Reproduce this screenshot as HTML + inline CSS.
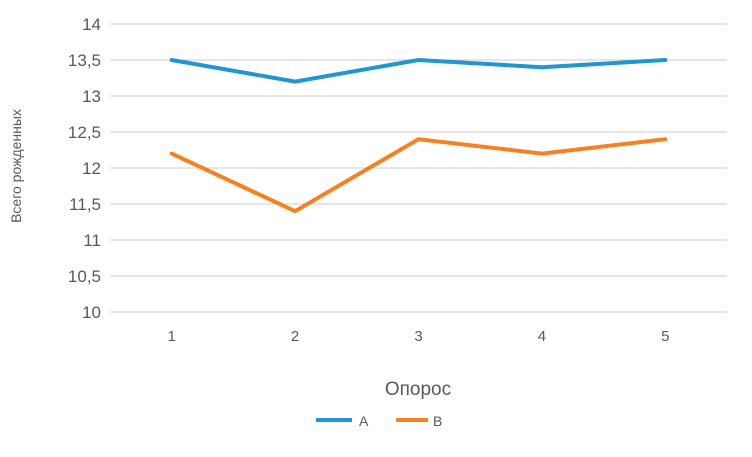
<!DOCTYPE html>
<html><head><meta charset="utf-8"><style>
body{margin:0;background:#fff;}
svg text{font-family:"Liberation Sans",sans-serif;fill:#595959;}
</style></head><body>
<svg id="chart" width="752" height="452" xmlns="http://www.w3.org/2000/svg">
<g id="grid"></g>
<g id="yticks"></g>
<g id="xticks"></g>
<g id="series"></g>
<text x="21" y="166" font-size="14" text-anchor="middle" transform="rotate(-90 21 166)">Всего рожденных</text>
<text x="418" y="395" font-size="19" text-anchor="middle">Опорос</text>
<g><line x1="316" y1="420" x2="352" y2="420" stroke="#2196d3" stroke-width="4"/><text x="359" y="426" font-size="14">A</text></g>
<g><line x1="396" y1="420" x2="428" y2="420" stroke="#f7811f" stroke-width="4"/><text x="433" y="426" font-size="14">B</text></g>
</svg>
<script>
const categories=["1","2","3","4","5"];
const seriesA=[13.5,13.2,13.5,13.4,13.5];
const seriesB=[12.2,11.4,12.4,12.2,12.4];
const yTicks=[10,10.5,11,11.5,12,12.5,13,13.5,14];
const yTickLabels=["10","10,5","11","11,5","12","12,5","13","13,5","14"];
const NS="http://www.w3.org/2000/svg";
const X0=110,X1=727,Y0=312,Y1=24,YMIN=10,YMAX=14;
function xs(i){return X0+(X1-X0)/categories.length*(i+0.5);}
function ys(v){return Y0-(v-YMIN)/(YMAX-YMIN)*(Y0-Y1);}
function mk(t,a,p){const e=document.createElementNS(NS,t);for(const k in a)e.setAttribute(k,a[k]);p.appendChild(e);return e;}
const grid=document.getElementById('grid'),yt=document.getElementById('yticks'),xt=document.getElementById('xticks'),sg=document.getElementById('series');
yTicks.forEach((v,i)=>{
 const l=mk('line',{x1:X0,x2:X1,y1:ys(v),y2:ys(v),stroke:'#cccccc','stroke-width':1},grid);
 
 
 const t=mk('text',{x:101,y:ys(v)+6,'font-size':17,'text-anchor':'end'},yt);
 t.textContent=yTickLabels[i];
 
 
});
categories.forEach((c,i)=>{
 const t=mk('text',{x:xs(i),y:341,'font-size':15,'text-anchor':'middle'},xt);
 t.textContent=c;
 
 
});
function line(vals,color,name){
 const p=mk('polyline',{points:vals.map((v,i)=>xs(i)+','+ys(v)).join(' '),fill:'none',stroke:color,'stroke-width':4,'stroke-linejoin':'round','stroke-linecap':'round'},sg);
 
 
}
line(seriesA,'#2196d3','series-a-line');
line(seriesB,'#f7811f','series-b-line');
</script>
</body></html>
